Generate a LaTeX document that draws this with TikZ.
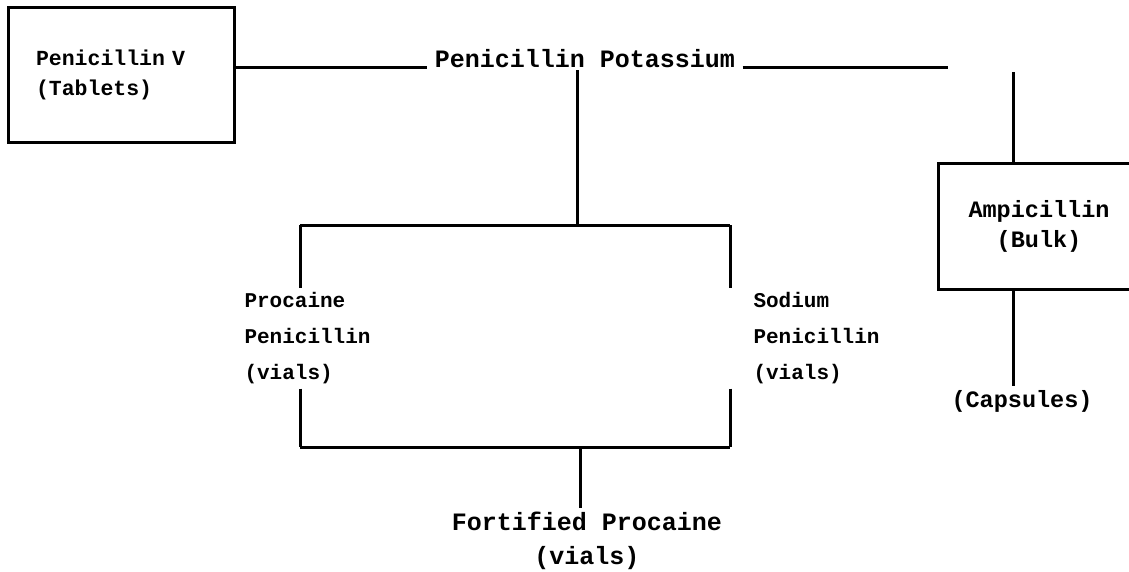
\documentclass[tikz,border=0pt]{standalone}
\usepackage{fontspec}
\setmonofont{Liberation Mono}
\begin{document}
\begin{tikzpicture}[x=1pt,y=-1pt,
  line width=3pt,
  lab/.style={font=\ttfamily\bfseries, inner sep=2pt},
  big/.style={lab, font=\fontsize{25}{34}\selectfont\ttfamily\bfseries},
  med/.style={lab, font=\fontsize{23.5}{30}\selectfont\ttfamily\bfseries},
  sml/.style={lab, font=\fontsize{21}{36}\selectfont\ttfamily\bfseries},
  boxsml/.style={lab, font=\fontsize{21.5}{30}\selectfont\ttfamily\bfseries},
  frame/.style={draw, line width=3pt}]
\clip (0,0) rectangle (1129,571);
% boxes
\node[boxsml, frame, minimum width=226pt, minimum height=135pt, text width=170pt, align=left] (pv) at (121,74.5) {Penicillin V\\(Tablets)};
\node[big, anchor=base, inner sep=6pt] (pot) at (585,67) {Penicillin Potassium};
\node[med, frame, minimum width=202pt, minimum height=126pt, align=center] (amp) at (1039,226) {Ampicillin\\(Bulk)};
\node[sml, align=left, anchor=north west, inner sep=3pt] (proc) at (240,288) {Procaine\\Penicillin\\(vials)};
\node[sml, align=left, anchor=north west, inner sep=3pt] (sod) at (749,288) {Sodium\\Penicillin\\(vials)};
\node[big, align=center, anchor=north, inner sep=3pt] (fort) at (587,508) {Fortified Procaine\\(vials)};
\node[med, anchor=north, inner sep=3pt] (caps) at (1022,386) {(Capsules)};
% junctions
\coordinate (j1) at (577,225);
\coordinate (j0) at (577,70);
\coordinate (jL) at (300,225);
\coordinate (jR) at (730,225);
\coordinate (bL) at (300,447);
\coordinate (bR) at (730,447);
\coordinate (bM) at (580,447);
\coordinate (potEnd) at (948,67);
\coordinate (ampIn) at (1013,72);
% connectors
\draw (pv.east |- pot.base) -- (pot.base west);
\draw (pot.base east) -- (potEnd);
\draw (ampIn) -- (ampIn |- amp.north);
\draw (j0) -- (j1);
\draw (jL) -- (jR);
\draw (jL) -- (jL |- proc.north);
\draw (jR) -- (jR |- sod.north);
\draw (jL |- proc.south) -- (bL);
\draw (jR |- sod.south) -- (bR);
\draw (bL) -- (bR);
\draw (bM) -- (bM |- fort.north);
\draw (ampIn |- amp.south) -- (ampIn |- caps.north);
\end{tikzpicture}
\end{document}
